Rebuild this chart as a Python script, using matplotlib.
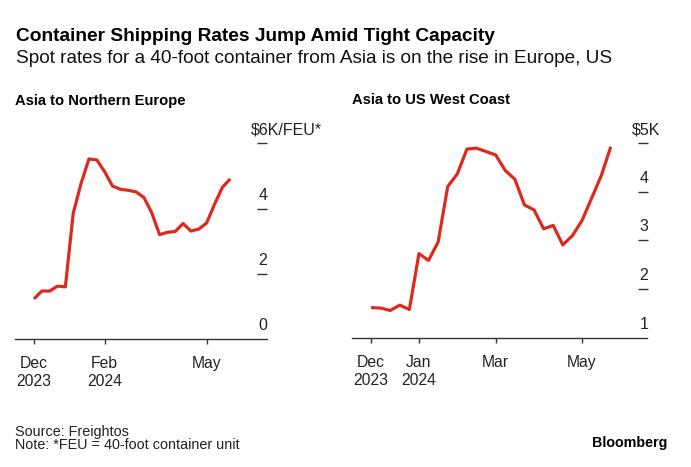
import numpy as np
import pandas as pd
import matplotlib
matplotlib.use("Agg")
import matplotlib.pyplot as plt
import matplotlib.dates as mdates

plt.rcParams['font.family'] = ['Liberation Sans', 'DejaVu Sans']

# weekly spot rates, thousand USD per FEU
dates = pd.date_range("2023-12-01", periods=26, freq="7D")
europe = [1.23, 1.47, 1.47, 1.62, 1.60, 3.85, 4.77, 5.52, 5.49, 5.13,
          4.69, 4.59, 4.56, 4.51, 4.34, 3.87, 3.20, 3.27, 3.30, 3.54,
          3.31, 3.37, 3.56, 4.13, 4.65, 4.91]
us_west = [1.62, 1.61, 1.56, 1.67, 1.58, 2.73, 2.59, 2.97, 4.11, 4.37,
           4.88, 4.90, 4.83, 4.76, 4.44, 4.26, 3.73, 3.63, 3.24, 3.31,
           2.91, 3.10, 3.41, 3.87, 4.33, 4.93]

eu_xticks = ["2023-12-01", "2024-02-02", "2024-05-03"]
eu_xlabels = ["Dec\n2023", "Feb\n2024", "May"]
eu_yticks = [0, 2, 4, 6]
eu_ylabels = ["0", "2", "4", "6"]

us_xticks = ["2023-12-01", "2024-01-05", "2024-03-01", "2024-05-03"]
us_xlabels = ["Dec\n2023", "Jan\n2024", "Mar", "May"]
us_yticks = [1, 2, 3, 4, 5]
us_ylabels = ["1", "2", "3", "4", "5"]

RED = "#dd2a1f"
DARK = "#333333"
W, H = 691, 467

fig = plt.figure(figsize=(W / 100, H / 100), dpi=100)


def px_axes(x0, x1, ytop, ybot):
    return fig.add_axes([x0 / W, (H - ybot) / H, (x1 - x0) / W, (ybot - ytop) / H])


def panel(ax, values, ylim, yticks, ylabels, unit, xticks, xlabels, before, after):
    ax.plot(dates, values, color=RED, lw=2.3, clip_on=False, solid_capstyle="butt")
    d0 = mdates.date2num(dates[0])
    ax.set_xlim(d0 - before, d0 + after)
    ax.set_ylim(*ylim)
    for s in ["top", "left", "right"]:
        ax.spines[s].set_visible(False)
    ax.spines["bottom"].set_color(DARK)
    ax.spines["bottom"].set_linewidth(1.0)
    ax.set_xticks([mdates.date2num(pd.Timestamp(t)) for t in xticks])
    ax.set_xticklabels(xlabels, fontsize=11.3, color="#222222", linespacing=1.3)
    ax.tick_params(axis="x", length=3.6, width=1.0, color=DARK, pad=8.5)
    ax.yaxis.tick_right()
    ax.set_yticks(yticks[1:])
    ax.tick_params(axis="y", direction="in", length=7.2, width=1.0, color=DARK,
                   labelright=False)
    tr = ax.get_yaxis_transform()
    for v, lab in zip(yticks, ylabels):
        if v == yticks[-1]:
            ax.annotate(unit.format(lab), xy=(1, v), xycoords=tr, xytext=(-11.4, 6.5),
                        textcoords="offset points", ha="left", va="baseline",
                        fontsize=11.5, color="#222222")
        else:
            ax.annotate(lab, xy=(1, v), xycoords=tr, xytext=(-2.7, 6.5),
                        textcoords="offset points", ha="center", va="baseline",
                        fontsize=11.5, color="#222222")


ax1 = px_axes(15, 266.7, 143.3, 339)
panel(ax1, europe, (0, 6), eu_yticks, eu_ylabels, "${}K/FEU*", eu_xticks, eu_xlabels, 16.9, 207.5)

ax2 = px_axes(352.3, 647.5, 143.3, 337.7)
panel(ax2, us_west, (1, 5), us_yticks, us_ylabels, "${}K", us_xticks, us_xlabels, 13.65, 201.8)


def ftext(x, y, s, **kw):
    fig.text(x / W, 1 - y / H, s, va="baseline", **kw)


ftext(16, 40.7, "Container Shipping Rates Jump Amid Tight Capacity",
      fontsize=13.8, fontweight="bold", color="black")
ftext(16, 62.7, "Spot rates for a 40-foot container from Asia is on the rise in Europe, US",
      fontsize=13.7, color="#111111")
ftext(15, 105, "Asia to Northern Europe", fontsize=10.6, fontweight="bold", color="black")
ftext(352.3, 104, "Asia to US West Coast", fontsize=10.6, fontweight="bold", color="black")
ftext(15, 435.7, "Source: Freightos", fontsize=10.4, color="#222222")
ftext(15, 449.3, "Note: *FEU = 40-foot container unit", fontsize=10.4, color="#222222")
ftext(667.7, 447.3, "Bloomberg", fontsize=10.3, fontweight="bold", color="black", ha="right")

fig.savefig("out.png", dpi=100)
